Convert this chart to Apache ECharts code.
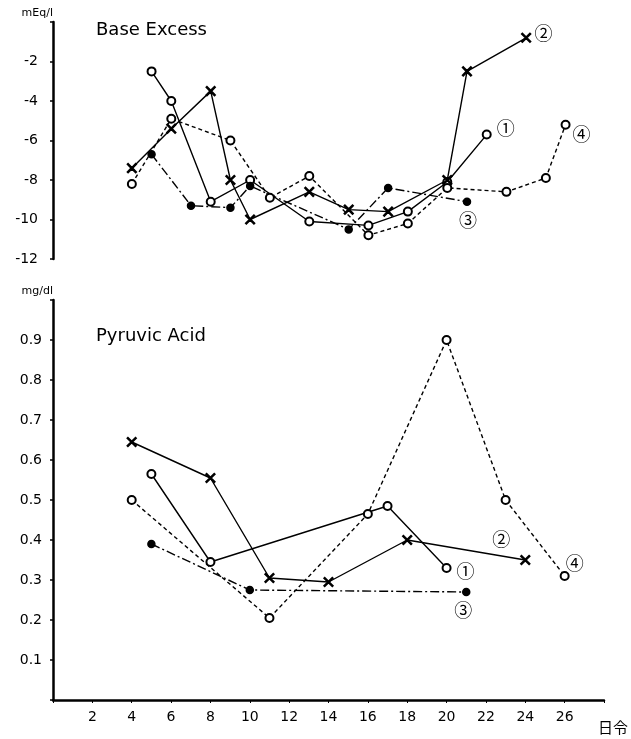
<!DOCTYPE html>
<html>
<head>
<meta charset="utf-8">
<script src="https://cdn.jsdelivr.net/npm/echarts@6/dist/echarts.min.js"></script>
<style>html,body{margin:0;padding:0;background:#fff}#c{width:631px;height:739px}</style>
</head>
<body>
<div id="c"></div>
<script>
// ---- Base Excess (mEq/l) ----
const beDays1 = [5, 6, 8, 10, 13, 16, 18, 20, 22];
const be1     = [-2.5, -4, -9.1, -8, -10.1, -10.3, -9.6, -8.1, -5.7];
const beDays2 = [4, 6, 8, 9, 10, 13, 15, 17, 20, 21, 24];
const be2     = [-7.4, -5.4, -3.5, -8, -10, -8.6, -9.5, -9.6, -8.0, -2.5, -0.8];
const beDays3 = [5, 7, 9, 10, 15, 17, 21];
const be3     = [-6.7, -9.3, -9.4, -8.3, -10.5, -8.4, -9.1];
const beDays4 = [4, 6, 9, 11, 13, 16, 18, 20, 23, 25, 26];
const be4     = [-8.2, -4.9, -6, -8.9, -7.8, -10.8, -10.2, -8.4, -8.6, -7.9, -5.2];
// ---- Pyruvic Acid (mg/dl) ----
const paDays1 = [5, 8, 17, 20];
const pa1     = [0.565, 0.345, 0.485, 0.33];
const paDays2 = [4, 8, 11, 14, 18, 24];
const pa2     = [0.645, 0.555, 0.305, 0.295, 0.40, 0.35];
const paDays3 = [5, 10, 21];
const pa3     = [0.39, 0.275, 0.27];
const paDays4 = [4, 11, 16, 20, 23, 26];
const pa4     = [0.50, 0.205, 0.465, 0.90, 0.50, 0.31];
// ---- texts ----
const seriesNames = ['①', '②', '③', '④'];
const xTickLabels = ['2','4','6','8','10','12','14','16','18','20','22','24','26'];
const titleTop = 'Base Excess';
const titleBottom = 'Pyruvic Acid';
const unitTop = 'mEq/l';
const unitBottom = 'mg/dl';
const xUnit = '日令';

const FONT = 'DejaVu Sans';
const crossSym = 'path://M0,0.8L0.8,0L5,4.2L9.2,0L10,0.8L5.8,5L10,9.2L9.2,10L5,5.8L0.8,10L0,9.2L4.2,5Z';
const styles = [
  {symbol: 'emptyCircle', size: 8, line: 'solid'},
  {symbol: crossSym, size: 9, line: 'solid'},
  {symbol: 'circle', size: 7, line: [9, 3, 2, 3]},
  {symbol: 'emptyCircle', size: 8, line: [4, 3]}
];
function zip(a, b) { return a.map((d, i) => [d, b[i]]); }
function mk(idx, grid, days, vals, labelPos, labelOffset) {
  const st = styles[idx];
  const data = zip(days, vals).map((p, i, arr) => {
    const o = {value: p};
    if (i === arr.length - 1) {
      o.label = {show: true, formatter: seriesNames[idx], position: labelPos, offset: labelOffset,
        fontFamily: 'Noto Sans CJK JP', fontSize: 18, color: '#000'};
    }
    return o;
  });
  return {
    type: 'line', name: seriesNames[idx], xAxisIndex: grid, yAxisIndex: grid, data: data,
    symbol: st.symbol, symbolSize: st.size, showAllSymbol: true, animation: false,
    lineStyle: {color: '#000', width: 1.4, type: st.line},
    itemStyle: {color: '#000', borderColor: '#000', borderWidth: 1.5},
    label: {show: false}, z: 3
  };
}
const axisCommon = {
  axisLine: {show: true, lineStyle: {color: '#000', width: 2.5}},
  axisTick: {show: true, length: 3, lineStyle: {color: '#000', width: 1.5}},
  splitLine: {show: false}
};
const chart = echarts.init(document.getElementById('c'), null, {renderer: 'canvas'});
chart.setOption({
  backgroundColor: '#fff',
  animation: false,
  title: [
    {text: titleTop, left: 91, top: 16, textStyle: {fontFamily: FONT, fontWeight: 'normal', fontSize: 18, color: '#000'}},
    {text: titleBottom, left: 91, top: 322, textStyle: {fontFamily: FONT, fontWeight: 'normal', fontSize: 18, color: '#000'}}
  ],
  grid: [
    {left: 53, right: 26, top: 22, height: 237},
    {left: 53, right: 26, top: 300, height: 400}
  ],
  xAxis: [
    {type: 'value', gridIndex: 0, min: 0, max: 28, interval: 2, show: false},
    Object.assign({}, axisCommon, {
      type: 'value', gridIndex: 1, min: 0, max: 28, interval: 2,
      axisTick: {show: true, length: 3, lineStyle: {color: '#000', width: 1}},
      axisLabel: {color: '#000', fontFamily: FONT, fontSize: 14, margin: 10,
        formatter: v => (xTickLabels.indexOf(String(v)) >= 0 ? String(v) : '')},
      name: xUnit, nameLocation: 'end', nameGap: -6,
      nameTextStyle: {fontFamily: 'Noto Sans CJK JP', fontSize: 15, color: '#000',
        verticalAlign: 'top', align: 'left', padding: [20, 0, 0, 0]}
    })
  ],
  yAxis: [
    Object.assign({}, axisCommon, {
      type: 'value', gridIndex: 0, min: -12, max: 0, interval: 2,
      axisLabel: {color: '#000', fontFamily: FONT, fontSize: 14, margin: 15,
        formatter: v => (v === 0 ? '' : String(v))},
      name: unitTop, nameLocation: 'end', nameGap: 3,
      nameTextStyle: {fontFamily: FONT, fontSize: 11, color: '#000', align: 'right', padding: [0, 0, 0, 0]}
    }),
    Object.assign({}, axisCommon, {
      type: 'value', gridIndex: 1, min: 0, max: 1, interval: 0.1,
      axisLabel: {color: '#000', fontFamily: FONT, fontSize: 14, margin: 11,
        formatter: v => (v <= 0.001 || v >= 0.999 ? '' : v.toFixed(1))},
      name: unitBottom, nameLocation: 'end', nameGap: 3,
      nameTextStyle: {fontFamily: FONT, fontSize: 11, color: '#000', align: 'right', padding: [0, 0, 0, 0]}
    })
  ],
  series: [
    mk(0, 0, beDays1, be1, 'right', [0, -6]),
    mk(1, 0, beDays2, be2, 'right', [-2, -5]),
    mk(2, 0, beDays3, be3, 'bottom', [1, 0]),
    mk(3, 0, beDays4, be4, 'right', [-3, 9]),
    mk(0, 1, paDays1, pa1, 'right', [0, 3]),
    mk(1, 1, paDays2, pa2, 'top', [-24, -2]),
    mk(2, 1, paDays3, pa3, 'bottom', [-3, 0]),
    mk(3, 1, paDays4, pa4, 'top', [10, 6])
  ]
});
</script>
</body>
</html>
